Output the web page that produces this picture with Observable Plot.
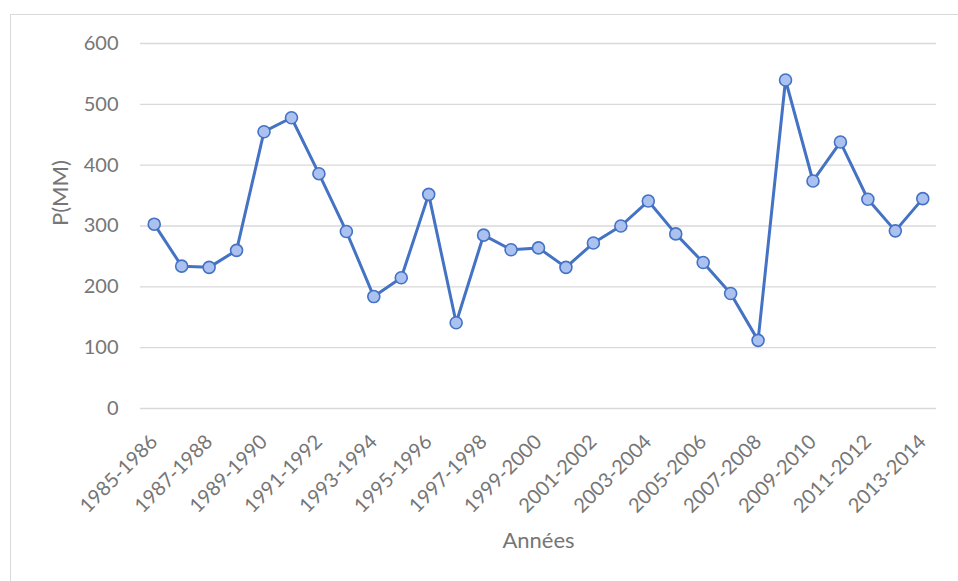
<!DOCTYPE html>
<html><head><meta charset="utf-8">
<script src="https://cdn.jsdelivr.net/npm/d3@7"></script>
<script src="https://cdn.jsdelivr.net/npm/@observablehq/plot@0.6"></script>
<style>
html,body{margin:0;padding:0;background:#fff;overflow:hidden}
#wrap{position:relative;width:958px;height:581px;overflow:hidden}
#frame{position:absolute;left:10px;top:14px;width:1000px;height:700px;border:1px solid #d9d9d9;box-sizing:border-box}
#chart{position:absolute;left:0;top:0}
</style></head><body>
<div id="wrap"><div id="frame"></div><div id="chart"></div></div>
<script>
const seasons = ["1985-1986","1986-1987","1987-1988","1988-1989","1989-1990","1990-1991","1991-1992","1992-1993","1993-1994","1994-1995","1995-1996","1996-1997","1997-1998","1998-1999","1999-2000","2000-2001","2001-2002","2002-2003","2003-2004","2004-2005","2005-2006","2006-2007","2007-2008","2008-2009","2009-2010","2010-2011","2011-2012","2012-2013","2013-2014"];
const precipitation = [303,234,232,260,455,478,386,291,184,215,352,141,285,261,264,232,272,300,341,287,240,189,112,540,374,438,344,292,345];
const tickLabels = seasons.filter((d, i) => i % 2 === 0);
const yTicks = [0, 100, 200, 300, 400, 500, 600];
const yTitle = "P(MM)";
const xTitle = "Années";

const data = seasons.map((s, i) => ({season: s, p: precipitation[i]}));

const chart = Plot.plot({
  width: 958, height: 581,
  marginLeft: 140, marginRight: 22, marginTop: 43, marginBottom: 173,
  style: {fontFamily: "Lato, sans-serif", color: "#767676", background: "transparent", overflow: "visible"},
  x: {type: "point", domain: seasons, padding: 0.5, round: false},
  y: {domain: [0, 600]},
  marks: [
    Plot.gridY(yTicks, {stroke: "#d9d9d9", strokeOpacity: 1, strokeWidth: 1.3}),
    Plot.axisY(yTicks, {tickSize: 0, tickPadding: 22, fontSize: 20, label: null}),
    Plot.axisX(tickLabels, {tickSize: 0, tickRotate: -45, tickPadding: 30, fontSize: 20, label: null}),
    Plot.text([yTitle], {frameAnchor: "left", rotate: -90, dx: -80, fontSize: 22, fill: "#767676"}),
    Plot.text([xTitle], {frameAnchor: "bottom", dy: 139, fontSize: 22, fill: "#767676"}),
    Plot.line(data, {x: "season", y: "p", stroke: "#4472c4", strokeWidth: 3}),
    Plot.dot(data, {x: "season", y: "p", r: 6, fill: "#abc2f1", stroke: "#4472c4", strokeWidth: 1.6})
  ]
});
document.getElementById("chart").appendChild(chart);
</script>
</body></html>
